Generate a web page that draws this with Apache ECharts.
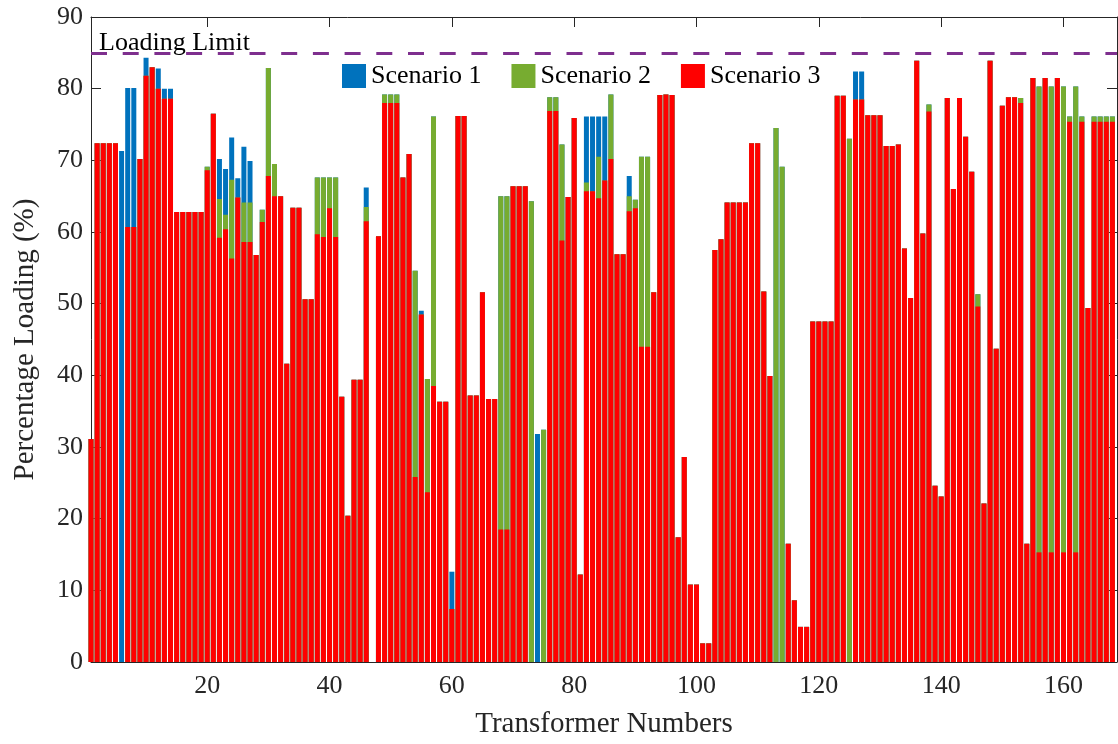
<!DOCTYPE html>
<html><head><meta charset="utf-8">
<script src="https://cdn.jsdelivr.net/npm/echarts@6/dist/echarts.min.js"></script>
<style>html,body{margin:0;padding:0;background:#fff}#chart{width:1118px;height:744px}</style>
</head><body><div id="chart"></div>
<script>
const transformerNumbers = [];
for (let i = 1; i <= 168; i++) transformerNumbers.push(i);

const seriesNames = ['Scenario 1', 'Scenario 2', 'Scenario 3'];

const scenario1 = [
  31.1, 72.4, 72.4, 72.4, 72.4, 71.3, 80.1, 80.1, 70.2, 84.3,
  83.0, 82.8, 80.0, 80.0, 62.8, 62.8, 62.8, 62.8, 62.8, 69.1,
  76.5, 70.2, 68.8, 73.2, 67.5, 71.9, 69.9, 56.8, 63.1, 82.9,
  69.5, 65.0, 41.6, 63.4, 63.4, 50.6, 50.6, 67.6, 67.6, 67.6,
  67.6, 37.0, 20.4, 39.4, 39.4, 66.2, 0, 59.4, 79.2, 79.2,
  79.2, 67.6, 70.9, 54.6, 49.0, 39.5, 76.1, 36.3, 36.3, 12.6,
  76.2, 76.2, 37.2, 37.2, 51.6, 36.7, 36.7, 65.0, 65.0, 66.4,
  66.4, 66.4, 64.3, 31.8, 32.4, 78.8, 78.8, 72.2, 64.9, 75.9,
  12.2, 76.1, 76.1, 76.1, 76.1, 79.2, 56.9, 56.9, 67.8, 64.5,
  70.5, 70.5, 51.6, 79.1, 79.2, 79.1, 17.4, 28.6, 10.8, 10.8,
  2.6, 2.6, 57.5, 59.0, 64.1, 64.1, 64.1, 64.1, 72.4, 72.4,
  51.7, 39.9, 74.5, 69.1, 16.5, 8.6, 4.9, 4.9, 47.5, 47.5,
  47.5, 47.5, 79.0, 79.0, 73.0, 82.4, 82.4, 76.3, 76.3, 76.3,
  72.0, 72.0, 72.2, 57.7, 50.8, 83.9, 59.8, 77.8, 24.6, 23.1,
  78.7, 66.0, 78.7, 73.3, 68.4, 51.3, 22.1, 83.9, 43.7, 77.6,
  78.8, 78.8, 78.7, 16.5, 81.5, 80.3, 81.5, 80.3, 81.5, 80.3,
  76.1, 80.3, 76.1, 49.4, 76.1, 76.1, 76.1, 76.1
];

const scenario2 = [
  31.1, 72.4, 72.4, 72.4, 72.4, 0, 60.7, 60.7, 70.2, 81.8,
  83.0, 80.0, 78.6, 78.6, 62.8, 62.8, 62.8, 62.8, 62.8, 69.1,
  76.5, 64.6, 62.4, 67.3, 64.8, 64.1, 64.1, 56.8, 63.1, 82.9,
  69.5, 65.0, 41.6, 63.4, 63.4, 50.6, 50.6, 67.6, 67.6, 67.6,
  67.6, 37.0, 20.4, 39.4, 39.4, 63.5, 0, 59.4, 79.2, 79.2,
  79.2, 67.6, 70.9, 54.6, 48.5, 39.5, 76.1, 36.3, 36.3, 7.4,
  76.2, 76.2, 37.2, 37.2, 51.6, 36.7, 36.7, 65.0, 65.0, 66.4,
  66.4, 66.4, 64.3, 0, 32.4, 78.8, 78.8, 72.2, 64.9, 75.9,
  12.2, 66.9, 65.7, 70.5, 67.2, 79.2, 56.9, 56.9, 65.0, 64.5,
  70.5, 70.5, 51.6, 79.1, 79.2, 79.1, 17.4, 28.6, 10.8, 10.8,
  2.6, 2.6, 57.5, 59.0, 64.1, 64.1, 64.1, 64.1, 72.4, 72.4,
  51.7, 39.9, 74.5, 69.1, 16.5, 8.6, 4.9, 4.9, 47.5, 47.5,
  47.5, 47.5, 79.0, 79.0, 73.0, 78.5, 78.5, 76.3, 76.3, 76.3,
  72.0, 72.0, 72.2, 57.7, 50.8, 83.9, 59.8, 77.8, 24.6, 23.1,
  78.7, 66.0, 78.7, 73.3, 68.4, 51.3, 22.1, 83.9, 43.7, 77.6,
  78.8, 78.8, 78.7, 16.5, 81.5, 80.3, 81.5, 80.3, 81.5, 80.3,
  76.1, 80.3, 76.1, 49.4, 76.1, 76.1, 76.1, 76.1
];

const scenario3 = [
  31.1, 72.4, 72.4, 72.4, 72.4, 0, 60.7, 60.7, 70.2, 81.8,
  83.0, 80.0, 78.6, 78.6, 62.8, 62.8, 62.8, 62.8, 62.8, 68.6,
  76.5, 59.2, 60.4, 56.3, 64.8, 58.6, 58.6, 56.8, 61.4, 67.8,
  65.0, 65.0, 41.6, 63.4, 63.4, 50.6, 50.6, 59.7, 59.3, 63.3,
  59.3, 37.0, 20.4, 39.4, 39.4, 61.5, 0, 59.4, 78.0, 78.0,
  78.0, 67.6, 70.9, 25.8, 48.5, 23.7, 38.5, 36.3, 36.3, 7.4,
  76.2, 76.2, 37.2, 37.2, 51.6, 36.7, 36.7, 18.5, 18.5, 66.4,
  66.4, 66.4, 0, 0, 0, 76.9, 76.9, 58.8, 64.9, 75.9,
  12.2, 65.7, 65.7, 64.7, 67.2, 70.2, 56.9, 56.9, 62.9, 63.3,
  44.0, 44.0, 51.6, 79.1, 79.2, 79.1, 17.4, 28.6, 10.8, 10.8,
  2.6, 2.6, 57.5, 59.0, 64.1, 64.1, 64.1, 64.1, 72.4, 72.4,
  51.7, 39.9, 0, 0, 16.5, 8.6, 4.9, 4.9, 47.5, 47.5,
  47.5, 47.5, 79.0, 79.0, 0, 78.5, 78.5, 76.3, 76.3, 76.3,
  72.0, 72.0, 72.2, 57.7, 50.8, 83.9, 59.8, 76.8, 24.6, 23.1,
  78.7, 66.0, 78.7, 73.3, 68.4, 49.6, 22.1, 83.9, 43.7, 77.6,
  78.8, 78.8, 78.0, 16.5, 81.5, 15.3, 81.5, 15.3, 81.5, 15.3,
  75.4, 15.3, 75.4, 49.4, 75.4, 75.4, 75.4, 75.4
];

const xTickValues = [20, 40, 60, 80, 100, 120, 140, 160];
const loadingLimit = 85;
const loadingLimitLabel = 'Loading Limit';

const FONT = 'Liberation Serif';
const AXIS = '#262626';
const colors = ['#0072BD', '#77AC30', '#FF0000'];

function pairs(vals) { return vals.map((v, i) => [transformerNumbers[i], v]); }

const chart = echarts.init(document.getElementById('chart'), null, { renderer: 'canvas' });

const barBase = { type: 'bar', barWidth: 5, barGap: '-100%', clip: true, xAxisIndex: 0, yAxisIndex: 0 };

const option = {
  animation: false,
  backgroundColor: '#fff',
  grid: { left: 91, right: 1, top: 17, bottom: 79, containLabel: false },
  legend: {
    data: seriesNames, left: 337, top: 58, itemWidth: 24, itemHeight: 24, itemGap: 30,
    icon: 'rect', textStyle: { fontFamily: FONT, fontSize: 26, color: '#000' }
  },
  xAxis: [{
    type: 'value', min: 1, max: 168.75, position: 'bottom',
    name: 'Transformer Numbers', nameLocation: 'middle', nameGap: 48,
    nameTextStyle: { fontFamily: FONT, fontSize: 29, color: AXIS },
    axisLine: { show: true, onZero: false, lineStyle: { color: AXIS, width: 1 } },
    axisTick: { show: true, inside: true, length: 10, customValues: xTickValues, lineStyle: { color: AXIS } },
    axisLabel: { customValues: xTickValues, fontFamily: FONT, fontSize: 26, color: AXIS, margin: 11 },
    splitLine: { show: false }
  }, {
    type: 'value', min: 1, max: 168.75, position: 'top',
    axisLine: { show: true, onZero: false, lineStyle: { color: AXIS, width: 1 } },
    axisTick: { show: true, inside: true, length: 10, customValues: xTickValues, lineStyle: { color: AXIS } },
    axisLabel: { show: false }, splitLine: { show: false }
  }],
  yAxis: [{
    type: 'value', min: 0, max: 90, interval: 10, position: 'left',
    name: 'Percentage Loading (%)', nameLocation: 'middle', nameGap: 51, nameRotate: 90,
    nameTextStyle: { fontFamily: FONT, fontSize: 29, color: AXIS },
    axisLine: { show: true, onZero: false, lineStyle: { color: AXIS, width: 1 } },
    axisTick: { show: true, inside: true, length: 10, lineStyle: { color: AXIS } },
    axisLabel: { fontFamily: FONT, fontSize: 26, color: AXIS, margin: 8 },
    splitLine: { show: false }
  }, {
    type: 'value', min: 0, max: 90, interval: 10, position: 'right',
    axisLine: { show: true, onZero: false, lineStyle: { color: AXIS, width: 1 } },
    axisTick: { show: true, inside: true, length: 10, lineStyle: { color: AXIS } },
    axisLabel: { show: false }, splitLine: { show: false }
  }],
  series: [
    Object.assign({}, barBase, { name: seriesNames[0], data: pairs(scenario1), itemStyle: { color: colors[0] } }),
    Object.assign({}, barBase, { name: seriesNames[1], data: pairs(scenario2), itemStyle: { color: colors[1] } }),
    Object.assign({}, barBase, {
      name: seriesNames[2], data: pairs(scenario3), itemStyle: { color: colors[2] },
      markLine: {
        silent: true, symbol: 'none', animation: false,
        data: [{ yAxis: loadingLimit }],
        lineStyle: { color: '#7E2F8E', width: 3, type: [16, 15.7] },
        label: {
          show: true, position: 'insideStartTop', formatter: loadingLimitLabel,
          fontFamily: FONT, fontSize: 26, color: '#000', distance: [8, -3]
        }
      }
    })
  ]
};
chart.setOption(option);
</script>
</body></html>
